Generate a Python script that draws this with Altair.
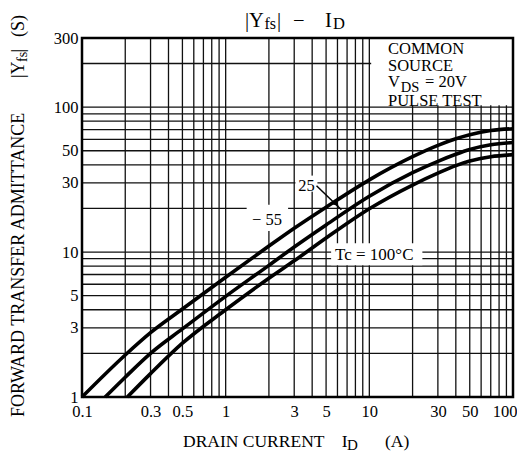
import altair as alt
import pandas as pd

FONT = "Liberation Serif"

# ---------------- data ----------------
id_m55 = [0.1, 0.2, 0.3, 0.5, 1, 2, 3, 5, 10, 20, 30, 40, 50, 70, 100]
yfs_m55 = [1.0, 1.95, 2.78, 4.05, 6.7, 11.0, 14.6, 20.4, 31.5, 45.5, 54.5, 60.5, 64.5, 69.0, 71.0]
id_25 = [0.145, 0.2, 0.3, 0.5, 1, 2, 3, 5, 10, 20, 30, 40, 50, 70, 100]
yfs_25 = [1.0, 1.37, 2.0, 2.95, 4.95, 8.1, 10.85, 15.4, 24.3, 35.3, 42.3, 47.3, 51.0, 55.0, 57.0]
id_100 = [0.207, 0.3, 0.5, 1, 2, 3, 5, 10, 20, 30, 40, 50, 70, 100]
yfs_100 = [1.0, 1.45, 2.35, 4.0, 6.6, 8.7, 12.5, 19.9, 29.0, 35.0, 39.5, 42.5, 45.5, 47.0]

x_grid = [0.2, 0.3, 0.4, 0.5, 0.6, 0.7, 0.8, 0.9, 1, 2, 3, 4, 5, 6, 7, 8, 9, 10,
          20, 30, 40, 50, 60, 70, 80, 90]
y_grid = [2, 3, 4, 5, 6, 7, 8, 9, 10, 20, 30, 40, 50, 60, 70, 80, 90, 100, 200]
x_ticks = [0.1, 0.3, 0.5, 1, 3, 5, 10, 30, 50, 100]
y_ticks = [1, 3, 5, 10, 30, 50, 100, 300]

title_parts = ["|Y", "fs", "|", "\u2212", "I", "D"]
xtitle_parts = ["DRAIN CURRENT", "I", "D", "(A)"]
ytitle_parts = ["FORWARD TRANSFER ADMITTANCE", "|Y", "fs", "|", "(S)"]
cond_parts = ["COMMON", "SOURCE", "V", "DS", "= 20V", "PULSE TEST"]
curve_labels = ["\u2212 55", "25", "Tc = 100\u00b0C"]

# label background boxes (data coordinates)
box_x = [10.3, 1.40, 3.06, 5.42]
box_x2 = [100, 2.72, 4.35, 23.4]
box_y = [103, 14.0, 26.1, 8.1]
box_y2 = [300, 21.2, 33.7, 11.5]

# arrow for "25"
arrow_x, arrow_y, arrow_x2, arrow_y2 = [4.29], [28.7], [6.39], [19.6]
head_x, head_y = [5.9], [21.5]

W, H = 431, 359

xscale = alt.Scale(type="log", domain=[0.1, 100], nice=False)
yscale = alt.Scale(type="log", domain=[1, 300], nice=False)
xaxis = alt.Axis(values=x_ticks, format="~g", title=None, grid=False, ticks=False,
                 domain=False, labelFont=FONT, labelFontSize=16.5, labelColor="black",
                 labelPadding=6, labelOverlap=False, labelFlush=False,
                 labelAlign={"condition": {"test": "datum.value >= 100", "value": "right"},
                             "value": "center"},
                 labelOffset={"condition": {"test": "datum.value >= 100", "value": 4},
                              "value": 0})
yaxis = alt.Axis(values=y_ticks, format="~g", title=None, grid=False, ticks=False,
                 domain=False, labelFont=FONT, labelFontSize=16.5, labelColor="black",
                 labelPadding=4, labelOverlap=False, labelFlush=False)


def X(f):
    return alt.X(f, type="quantitative", scale=xscale, axis=xaxis)


def Y(f):
    return alt.Y(f, type="quantitative", scale=yscale, axis=yaxis)


curves = pd.concat([
    pd.DataFrame({"x": id_m55, "y": yfs_m55, "s": "-55"}),
    pd.DataFrame({"x": id_25, "y": yfs_25, "s": "25"}),
    pd.DataFrame({"x": id_100, "y": yfs_100, "s": "100"}),
])

vgrid = alt.Chart(pd.DataFrame({"x": x_grid})).mark_rule(
    color="#111111", strokeWidth=1.3).encode(x=X("x"))
hgrid = alt.Chart(pd.DataFrame({"y": y_grid})).mark_rule(
    color="#111111", strokeWidth=1.3).encode(y=Y("y"))

boxes = alt.Chart(pd.DataFrame({"x": box_x, "x2": box_x2, "y": box_y, "y2": box_y2})).mark_rect(
    fill="white").encode(x=X("x"), x2="x2", y=Y("y"), y2="y2")

lines = alt.Chart(curves).mark_line(color="black", strokeWidth=3.6, interpolate="monotone").encode(
    x=X("x"), y=Y("y"), detail="s:N")

arrow = alt.Chart(pd.DataFrame({"x": arrow_x, "y": arrow_y, "x2": arrow_x2, "y2": arrow_y2})).mark_rule(
    color="black", strokeWidth=1.5).encode(x=X("x"), y=Y("y"), x2="x2", y2="y2")
head = alt.Chart(pd.DataFrame({"x": head_x, "y": head_y})).mark_point(
    shape="triangle-up", angle=135, filled=True, size=45, color="black", opacity=1).encode(
    x=X("x"), y=Y("y"))

frame = alt.Chart(pd.DataFrame({"a": [0]})).mark_rect(
    fillOpacity=0, stroke="black", strokeWidth=2.5).encode(
    x=alt.value(0), x2=alt.value(W), y=alt.value(0), y2=alt.value(H))


def txt(s, px, py, size, angle=0, align="left", baseline="alphabetic"):
    return alt.Chart(pd.DataFrame({"t": [s]})).mark_text(
        font=FONT, fontSize=size, align=align, baseline=baseline, angle=angle,
        color="black").encode(x=alt.value(px), y=alt.value(py), text="t:N")


texts = [
    # title
    txt(title_parts[0], 163, -11.3, 20.5),
    txt(title_parts[1], 182.5, -9.5, 16),
    txt(title_parts[2], 195, -11.3, 20.5),
    txt(title_parts[3], 211, -11.3, 20.5),
    txt(title_parts[4], 243, -11.3, 20.5),
    txt(title_parts[5], 251, -9.5, 16.5),
    # x title
    txt(xtitle_parts[0], 101, 408.5, 17.5),
    txt(xtitle_parts[1], 259.7, 408.5, 17.5),
    txt(xtitle_parts[2], 265, 412, 15),
    txt(xtitle_parts[3], 303, 409, 17.5),
    # y title (rotated)
    txt(ytitle_parts[0], -58, 379, 18, angle=270),
    txt(ytitle_parts[1], -58, 40, 18, angle=270),
    txt(ytitle_parts[2], -55, 24, 14, angle=270),
    txt(ytitle_parts[3], -58, 14.5, 18, angle=270),
    txt(ytitle_parts[4], -58, -1, 18, angle=270),
    # conditions
    txt(cond_parts[0], 306, 15.5, 16.5),
    txt(cond_parts[1], 306, 32.5, 16.5),
    txt(cond_parts[2], 306, 49, 16.5),
    txt(cond_parts[3], 318.7, 53.7, 14.5),
    txt(cond_parts[4], 343, 49, 16.5),
    txt(cond_parts[5], 306, 68, 16.5),
    # curve labels
    txt(curve_labels[0], 185, 187, 16.5, align="center"),
    txt(curve_labels[1], 224.5, 153, 16.5, align="center"),
    txt(curve_labels[2], 253, 222, 17),
]

chart = alt.layer(vgrid, hgrid, boxes, lines, arrow, head, frame, *texts).properties(
    width=W, height=H,
    autosize=alt.AutoSizeParams(type="none"),
    padding={"left": 74, "top": 30, "right": 4, "bottom": 55},
).configure_view(strokeWidth=0)

chart.save("out.html", embed_options={"renderer": "svg", "actions": False})
